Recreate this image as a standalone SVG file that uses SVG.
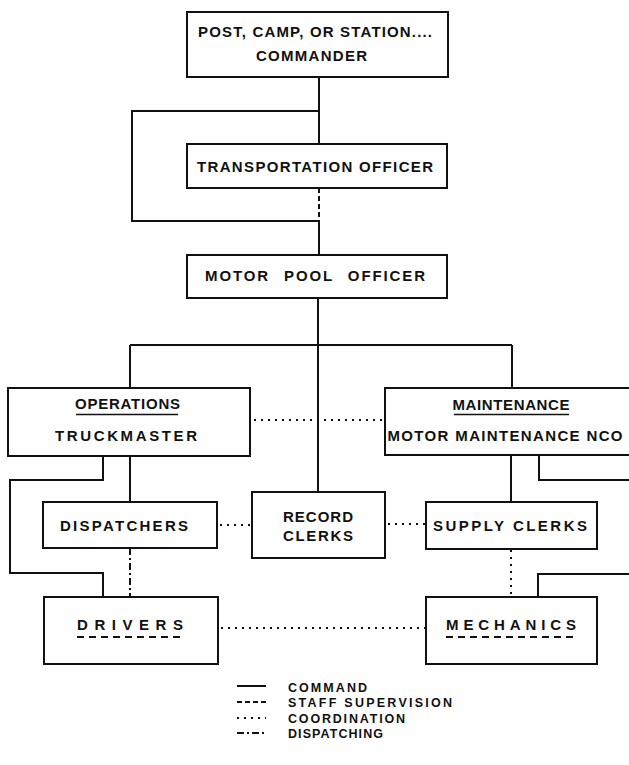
<svg xmlns="http://www.w3.org/2000/svg" width="629" height="765" viewBox="0 0 629 765">
<style>
.box{fill:#fff;stroke:#111;stroke-width:2}
.t{font-family:"Liberation Sans",Arial,sans-serif;font-weight:bold;font-size:15px;fill:#111;text-anchor:middle}
.lg{font-family:"Liberation Sans",Arial,sans-serif;font-weight:bold;font-size:12.5px;fill:#111}
.cmd{fill:none;stroke:#111;stroke-width:2}
.staff{fill:none;stroke:#111;stroke-width:2;stroke-dasharray:5 3}
.coord{fill:none;stroke:#111;stroke-width:2;stroke-dasharray:2 5}
.disp{fill:none;stroke:#111;stroke-width:2;stroke-dasharray:7 3 2 3}
.ul{fill:none;stroke:#111;stroke-width:1.5}
.dul{fill:none;stroke:#111;stroke-width:2;stroke-dasharray:7 5}
</style>
<rect width="629" height="765" fill="#fff"/>
<g id="connectors">
<path class="cmd" d="M319 77V144M319 111H132V221H319M319 221V255"/>
<path class="staff" d="M319 188V221"/>
<path class="cmd" d="M318 298V492M130 345H512M130 345V388M512 345V388"/>
<path class="cmd" d="M130 456V502M103 456V480H10V573H103V597"/>
<path class="disp" d="M130 548V597"/>
<path class="cmd" d="M511 455V502M539 455V480H640M538 597V574H640"/>
<path class="coord" d="M511 550V597"/>
<path class="coord" d="M254 420H384"/>
<path class="coord" d="M220 525H251"/>
<path class="coord" d="M388 524H425"/>
<path class="coord" d="M221 628H425"/>
</g>
<g id="commander">
<rect class="box" x="187" y="12" width="261" height="65"/>
<text class="t" x="315" y="37" textLength="234" lengthAdjust="spacing">POST, CAMP, OR STATION....</text>
<text class="t" x="311.5" y="61" textLength="111" lengthAdjust="spacing">COMMANDER</text>
</g>
<g id="transportation-officer">
<rect class="box" x="187" y="144" width="260" height="44"/>
<text class="t" x="315" y="172" textLength="236" lengthAdjust="spacing">TRANSPORTATION OFFICER</text>
</g>
<g id="motor-pool-officer">
<rect class="box" x="187" y="255" width="260" height="43"/>
<text class="t" x="315" y="281" textLength="220" lengthAdjust="spacing" word-spacing="8">MOTOR POOL OFFICER</text>
</g>
<g id="operations">
<rect class="box" x="8" y="388" width="242" height="68"/>
<text class="t" x="127.5" y="409" textLength="105" lengthAdjust="spacing">OPERATIONS</text>
<path class="ul" d="M76 414.5H178"/>
<text class="t" x="126" y="441" textLength="142" lengthAdjust="spacing">TRUCKMASTER</text>
</g>
<g id="maintenance">
<rect class="box" x="385" y="388" width="260" height="67"/>
<text class="t" x="511" y="410" textLength="117" lengthAdjust="spacing">MAINTENANCE</text>
<path class="ul" d="M454 414.5H569"/>
<text class="t" x="505" y="441" textLength="235" lengthAdjust="spacing">MOTOR MAINTENANCE NCO</text>
</g>
<g id="dispatchers">
<rect class="box" x="43" y="502" width="174" height="46"/>
<text class="t" x="124" y="531" textLength="128" lengthAdjust="spacing">DISPATCHERS</text>
</g>
<g id="record-clerks">
<rect class="box" x="252" y="492" width="133" height="66"/>
<text class="t" x="318" y="522" textLength="70" lengthAdjust="spacing">RECORD</text>
<text class="t" x="318" y="541" textLength="70" lengthAdjust="spacing">CLERKS</text>
</g>
<g id="supply-clerks">
<rect class="box" x="426" y="502" width="171" height="47"/>
<text class="t" x="510" y="531" textLength="154" lengthAdjust="spacing">SUPPLY CLERKS</text>
</g>
<g id="drivers">
<rect class="box" x="44" y="597" width="174" height="67"/>
<text class="t" x="130" y="630" textLength="106" lengthAdjust="spacing">DRIVERS</text>
<path class="dul" d="M77 637H183"/>
</g>
<g id="mechanics">
<rect class="box" x="426" y="597" width="171" height="67"/>
<text class="t" x="511" y="630" textLength="130" lengthAdjust="spacing">MECHANICS</text>
<path class="dul" d="M446 637H576"/>
</g>
<g id="legend">
<path class="cmd" d="M237 686H266"/>
<path class="staff" d="M237 702H266"/>
<path class="coord" d="M237 718H266"/>
<path class="disp" d="M237 733H266"/>
<text class="lg" x="288" y="692" textLength="79" lengthAdjust="spacing">COMMAND</text>
<text class="lg" x="288" y="707" textLength="164" lengthAdjust="spacing">STAFF SUPERVISION</text>
<text class="lg" x="288" y="723" textLength="117" lengthAdjust="spacing">COORDINATION</text>
<text class="lg" x="288" y="738" textLength="95" lengthAdjust="spacing">DISPATCHING</text>
</g>
</svg>
